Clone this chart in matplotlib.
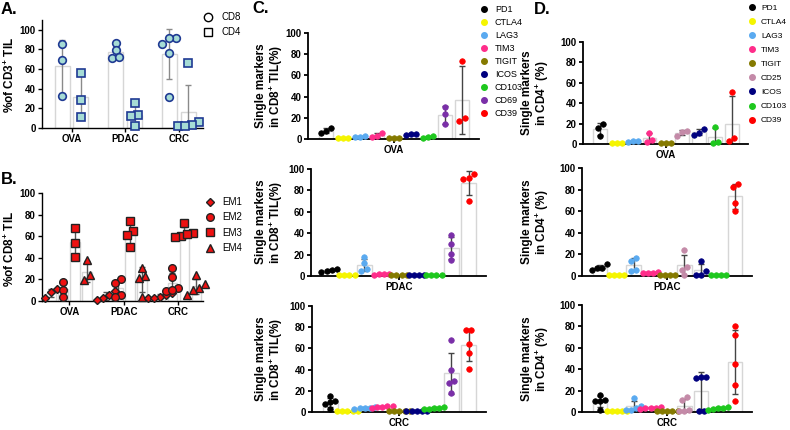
import numpy as np
import matplotlib.pyplot as plt
from matplotlib.lines import Line2D

plt.rcParams['font.family'] = ['Liberation Sans', 'DejaVu Sans']
plt.rcParams['font.weight'] = 'bold'
plt.rcParams['mathtext.fontset'] = 'custom'
plt.rcParams['mathtext.bf'] = 'Liberation Sans:bold'
plt.rcParams['mathtext.rm'] = 'Liberation Sans:bold'
plt.rcParams['mathtext.default'] = 'bf'

# ---- data ----
tumors = ['OVA', 'PDAC', 'CRC']

# A: % of CD3+ TIL
cd8_a = [[86, 69, 33], [87, 79, 71, 72], [92, 92, 86, 76, 32]]
cd4_a = [[56, 29, 11], [25, 13, 2, 12], [66, 6, 2, 3, 2]]

# B: % of CD8+ TIL by EM subset
em_names = ['EM1', 'EM2', 'EM3', 'EM4']
em1 = [[11, 8, 3], [9, 6, 3, 1], [7, 6, 4, 3, 3]]
em2 = [[18, 10, 4], [20, 17, 6, 4], [31, 22, 12, 9, 10]]
em3 = [[68, 54, 41], [74, 65, 61, 50], [72, 63, 60, 59, 62]]
em4 = [[38, 24, 19], [31, 23, 21, 4], [24, 16, 12, 10, 6]]

# C: single markers in CD8+ TIL
c_markers = ['PD1', 'CTLA4', 'LAG3', 'TIM3', 'TIGIT', 'ICOS', 'CD103', 'CD69', 'CD39']
c_ova = [[8, 10, 6], [0.5, 0.5, 0.5], [2, 3, 2], [6, 2, 3], [1, 0.5, 1],
         [5, 5, 4], [2, 3, 1], [30, 24, 14], [74, 17, 20]]
c_pdac = [[7, 4, 5, 6], [0.5, 0.5, 0.5, 0.5], [18, 12, 5, 7], [2, 2, 1, 2],
          [1, 1, 1, 1], [1, 1, 1, 1], [1, 1, 1, 1], [38, 30, 21, 15], [95, 92, 91, 70]]
c_crc = [[15, 10, 9, 8, 3], [0.5, 0.5, 0.5, 0.5, 0.5], [5, 4, 3, 4, 4],
         [6, 5, 6, 5, 4], [1, 1, 1, 1, 1], [1, 1, 1, 1, 1], [3, 4, 5, 3, 4],
         [68, 40, 29, 27, 18], [77, 77, 64, 56, 41]]

# D: single markers in CD4+ TIL
d_markers = ['PD1', 'CTLA4', 'LAG3', 'TIM3', 'TIGIT', 'CD25', 'ICOS', 'CD103', 'CD39']
d_ova = [[20, 16, 8], [0.5, 0.5, 0.5], [2, 3, 3], [11, 2, 4], [1, 1, 1],
         [13, 8, 12], [15, 9, 11], [17, 0.5, 2], [51, 3, 6]]
d_pdac = [[11, 7, 7, 6], [0.5, 0.5, 0.5, 0.5], [17, 14, 6, 5], [4, 3, 3, 3],
          [1, 1, 1, 1], [24, 8, 6, 1], [14, 5, 1, 1], [1, 1, 1, 1], [85, 82, 68, 60]]
d_crc = [[16, 11, 10, 10, 2], [0.5, 0.5, 0.5, 0.5, 0.5], [13, 6, 2, 2, 4],
         [5, 4, 4, 3, 4], [1, 1, 1, 1, 1], [14, 11, 2, 1, 1], [33, 33, 32, 1, 1],
         [4, 5, 3, 4, 2], [80, 72, 45, 25, 10]]

colors = {'PD1': '#000000', 'CTLA4': '#f5f500', 'LAG3': '#5aaaf0', 'TIM3': '#ff2d8a',
          'TIGIT': '#857a00', 'CD25': '#c48aa8', 'ICOS': '#00007f', 'CD103': '#1ec81e',
          'CD69': '#7a2fa8', 'CD39': '#ff0000'}

W, H = 790, 430
fig = plt.figure(figsize=(W / 100, H / 100), dpi=100)


def box(l, r, t, b):
    return [l / W, 1 - b / H, (r - l) / W, (b - t) / H]


def spread(vals, step, thr):
    # push close values sideways, like a prism scatter
    vals = np.asarray(vals, float)
    order = np.argsort(vals)
    offs = np.zeros(len(vals))
    clusters = [[order[0]]]
    for i in order[1:]:
        if vals[i] - vals[clusters[-1][-1]] < thr:
            clusters[-1].append(i)
        else:
            clusters.append([i])
    for c in clusters:
        k = len(c)
        o = (np.arange(k) - (k - 1) / 2) * step
        for j, idx in enumerate(c):
            offs[idx] = o[j]
    return offs


def group(ax, x, vals, width, step, thr, face, edge, marker, ms, mew, ecol):
    vals = np.asarray(vals, float)
    m, s = vals.mean(), vals.std(ddof=1)
    ax.bar(x, m, width, color='white', edgecolor='#d6d6d6', linewidth=1, zorder=1)
    ax.errorbar(x, m, yerr=s, color=ecol, capsize=2.5, elinewidth=1, capthick=1, zorder=2)
    ax.plot(x + spread(vals, step, thr), vals, ls='none', marker=marker, ms=ms,
            mfc=face, mec=edge, mew=mew, zorder=3, clip_on=False)


def style(ax, lw):
    ax.spines['top'].set_visible(False)
    ax.spines['right'].set_visible(False)
    ax.spines['left'].set_linewidth(lw)
    ax.spines['bottom'].set_linewidth(lw)
    ax.tick_params(direction='out', length=3, width=lw, labelsize=7, pad=1.5)


def ylab(x, y, s):
    fig.text(x / W, 1 - y / H, s, rotation=90, ha='center', va='center',
             fontsize=8.5, linespacing=1.05)


def legend(handles, labels, x, y, size, pad, spacing):
    fig.legend(handles, labels, loc='upper left', bbox_to_anchor=(x / W, 1 - y / H),
               frameon=False, prop={'size': size, 'weight': 'normal'}, handlelength=1,
               handletextpad=pad, labelspacing=spacing, borderpad=0, borderaxespad=0)


# ---- A ----
axA = fig.add_axes(box(42, 203, 20, 128))
for i in range(3):
    group(axA, i - 0.175, cd8_a[i], 0.28, 0.13, 7, '#a6dcd5', '#1f3a93', 'o', 5.5, 1.2, '#8a8a8a')
    group(axA, i + 0.175, cd4_a[i], 0.28, 0.13, 7, '#a6dcd5', '#1f3a93', 's', 5.5, 1.2, '#8a8a8a')
axA.set_xlim(-0.55, 2.45)
axA.set_ylim(0, 110)
axA.set_yticks(range(0, 101, 20))
axA.set_xticks(range(3))
axA.set_xticklabels(tumors)
style(axA, 1)
ylab(10, 75, '%of CD3$^{+}$ TIL')

legA = [Line2D([], [], ls='none', marker='o', ms=6, mfc='white', mec='black', mew=1),
        Line2D([], [], ls='none', marker='s', ms=6, mfc='white', mec='black', mew=1)]
legend(legA, ['CD8', 'CD4'], 203, 12, 7, 0.95, 0.55)

# ---- B ----
axB = fig.add_axes(box(42, 203, 193, 301))
em_data = [em1, em2, em3, em4]
em_markers = ['D', 'o', 's', '^']
em_ms = [4.5, 5.5, 5.5, 5.5]
for i in range(3):
    for k in range(4):
        group(axB, i + (k - 1.5) * 0.22, em_data[k][i], 0.18, 0.11, 6,
              '#ee1111', '#222222', em_markers[k], em_ms[k], 1, '#555555')
axB.set_xlim(-0.5, 2.45)
axB.set_ylim(0, 100)
axB.set_yticks(range(0, 101, 20))
axB.set_xticks(range(3))
axB.set_xticklabels(tumors)
style(axB, 1)
ylab(10, 249, '%of CD8$^{+}$ TIL')

legB = [Line2D([], [], ls='none', marker=m, ms=ms, mfc='#ee1111', mec='#222222', mew=1)
        for m, ms in zip(em_markers, em_ms)]
legend(legB, em_names, 205, 197, 7, 0.75, 0.55)


# ---- C and D ----
def marker_panel(rect, data, names, title):
    ax = fig.add_axes(rect)
    for i, (name, vals) in enumerate(zip(names, data)):
        group(ax, i, vals, 0.85, 0.3, 5, colors[name], colors[name], 'o', 4, 0.5, '#444444')
    ax.set_xlim(-1.05, 9.0)
    ax.set_ylim(0, 100)
    ax.set_yticks(range(0, 101, 20))
    ax.set_xticks([4])
    ax.set_xticklabels([title])
    style(ax, 1.3)
    ax.tick_params(axis='x', length=3, pad=1)
    return ax


marker_panel(box(308, 479, 33, 139), c_ova, c_markers, 'OVA')
marker_panel(box(311, 486, 169, 276), c_pdac, c_markers, 'PDAC')
marker_panel(box(312, 486, 306, 412), c_crc, c_markers, 'CRC')
for yc in [86, 222, 359]:
    ylab(270, yc, 'Single markers\nin CD8$^{+}$ TIL(%)')

marker_panel(box(583, 748, 42, 144), d_ova, d_markers, 'OVA')
marker_panel(box(582, 752, 168, 276), d_pdac, d_markers, 'PDAC')
marker_panel(box(582, 752, 305, 412), d_crc, d_markers, 'CRC')
for yc in [93, 222, 359]:
    ylab(536, yc, 'Single markers\nin CD4$^{+}$ (%)')

legC = [Line2D([], [], ls='none', marker='o', ms=4, color=colors[n]) for n in c_markers]
legend(legC, c_markers, 479, 5, 6.5, 0.75, 0.45)

legD = [Line2D([], [], ls='none', marker='o', ms=4, color=colors[n]) for n in d_markers]
legend(legD, d_markers, 748, 4, 6, 0.55, 0.75)

# panel letters
fig.text(1 / W, 1 - 2 / H, 'A.', fontsize=12, ha='left', va='top')
fig.text(1 / W, 1 - 172 / H, 'B.', fontsize=12, ha='left', va='top')
fig.text(252 / W, 1 - 1 / H, 'C.', fontsize=12, ha='left', va='top')
fig.text(534 / W, 1 - 2 / H, 'D.', fontsize=12, ha='left', va='top')

fig.savefig('out.png', dpi=100)
